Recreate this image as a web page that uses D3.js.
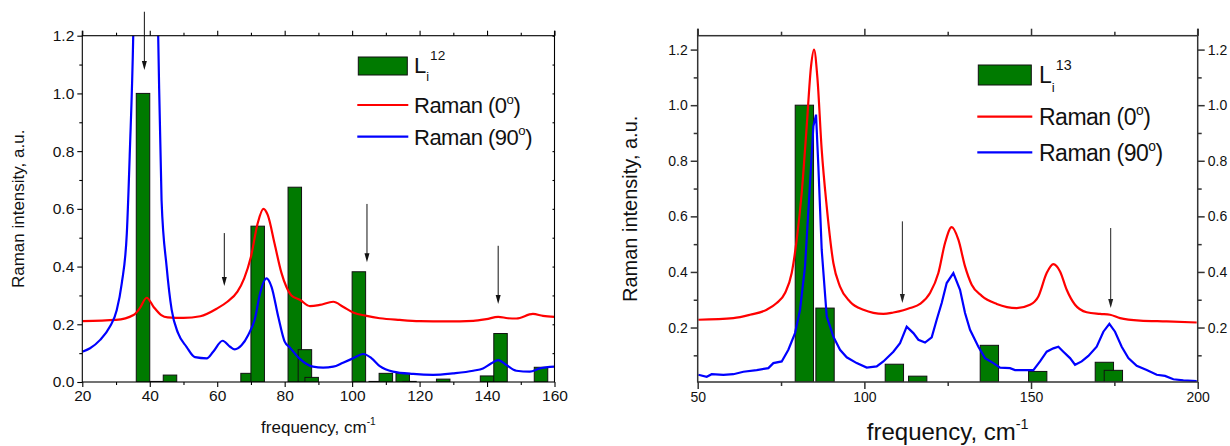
<!DOCTYPE html>
<html>
<head>
<meta charset="utf-8">
<script src="https://cdn.jsdelivr.net/npm/d3@7"></script>
<style>
  html, body { margin: 0; padding: 0; background: #fff; }
  svg { display: block; font-family: "Liberation Sans", Arial, sans-serif; }
</style>
</head>
<body>
<svg id="chart" width="1230" height="446"></svg>
<script>
// ---------------- DATA: left panel (L_i^12) ----------------
const barsLeftFreq = [38, 42, 46, 69, 72, 83, 86, 88, 102, 107, 110, 115, 117, 127, 140, 144, 156];
const barsLeftVal  = [1.0, 0.002, 0.024, 0.03, 0.54, 0.675, 0.112, 0.016, 0.382, 0.002, 0.03, 0.03, 0.002, 0.01, 0.021, 0.168, 0.051];

const redLeftX = [20, 30, 35.2, 37, 39.1, 41.1, 43.4, 45.3, 50, 55, 60, 63, 66, 68, 70, 72, 73.7, 75, 77, 79, 80.5, 82, 84.5, 87.5, 90.4, 94.4, 97.3, 100.3, 104.3, 108.2, 114.1, 120, 128, 135.9, 139.8, 143.3, 146.2, 148.7, 153.6, 156.6, 160];
const redLeftY = [0.211, 0.215, 0.232, 0.255, 0.292, 0.261, 0.232, 0.224, 0.222, 0.228, 0.255, 0.278, 0.313, 0.359, 0.434, 0.55, 0.60, 0.578, 0.48, 0.38, 0.33, 0.30, 0.285, 0.263, 0.267, 0.278, 0.261, 0.241, 0.229, 0.221, 0.215, 0.211, 0.21, 0.212, 0.218, 0.226, 0.221, 0.22, 0.236, 0.229, 0.226];

const blueLeftX = [20, 22.3, 25.3, 28.2, 30.2, 31.7, 33.2, 34.1, 35.1, 36, 37.5, 39, 40.5, 41.7, 42.5, 43.5, 45, 46.5, 48.4, 50.9, 53.4, 56.9, 58.8, 61.6, 63.8, 65.2, 67.2, 69.2, 71.2, 72.7, 74.6, 76.1, 78.1, 80, 81.5, 84.5, 88.4, 91.4, 94.4, 97.3, 100.3, 103.3, 105.7, 108.2, 112.1, 118.1, 124, 129.9, 135.9, 138.8, 141.3, 143.3, 145.7, 148.7, 152.7, 155.6, 160];
const blueLeftY = [0.105, 0.117, 0.146, 0.192, 0.249, 0.342, 0.515, 0.80, 1.2, 1.9, 2.6, 2.8, 2.4, 1.7, 1.2, 0.63, 0.40, 0.25, 0.169, 0.122, 0.086, 0.082, 0.105, 0.143, 0.122, 0.113, 0.127, 0.163, 0.22, 0.307, 0.359, 0.33, 0.226, 0.14, 0.12, 0.08, 0.053, 0.05, 0.053, 0.067, 0.082, 0.097, 0.083, 0.055, 0.036, 0.028, 0.025, 0.03, 0.039, 0.047, 0.065, 0.076, 0.059, 0.039, 0.036, 0.047, 0.053];

const arrowsLeftX  = [38.4, 62.1, 104.4, 143.3];
const arrowsLeftY0 = [1.283, 0.516, 0.617, 0.472];
const arrowsLeftY1 = [1.081, 0.333, 0.415, 0.27];

// ---------------- DATA: right panel (L_i^13) ----------------
const barsRightFreq = [77, 82, 88.2, 109, 116, 137.5, 146, 152, 172, 174.7];
const barsRightVal  = [0.002, 1.0, 0.27, 0.068, 0.025, 0.136, 0.003, 0.042, 0.075, 0.046];

const redRightX = [50.2, 60.7, 65.7, 70.7, 73.7, 76.2, 78.2, 79.7, 81.2, 82.7, 84, 84.9, 85.9, 87.2, 88.7, 90.7, 92.7, 95.7, 99.7, 105.7, 108.7, 111.7, 113.7, 116.7, 119.7, 122.2, 124.2, 126.2, 128.2, 130.2, 132.2, 135.2, 139.7, 145.7, 149.7, 152.2, 154.7, 156.7, 158.7, 160.7, 163.2, 166.7, 170.7, 173.7, 176.7, 182.7, 190.7, 199.7];
const redRightY = [0.228, 0.234, 0.246, 0.264, 0.288, 0.324, 0.396, 0.516, 0.684, 0.924, 1.14, 1.20, 1.10, 0.84, 0.636, 0.432, 0.347, 0.293, 0.264, 0.249, 0.254, 0.262, 0.27, 0.285, 0.324, 0.396, 0.504, 0.561, 0.516, 0.42, 0.354, 0.314, 0.285, 0.27, 0.282, 0.312, 0.396, 0.428, 0.402, 0.336, 0.282, 0.255, 0.249, 0.246, 0.234, 0.225, 0.222, 0.218];

const blueRightX = [50.2, 52.7, 54.2, 57.7, 60.7, 63.7, 67.7, 71.2, 72.7, 75.2, 77.2, 79.2, 80.7, 82.2, 83.7, 84.7, 85.5, 86.2, 87.2, 88.7, 90.7, 92.7, 94.7, 97.7, 100.7, 103.7, 105.7, 108.7, 110.7, 112.7, 114.7, 116.2, 118.2, 120.2, 121.7, 123.2, 124.7, 126.7, 128.7, 130.2, 131.7, 134.2, 136.2, 138.7, 140.7, 143.7, 145.2, 148.7, 150.7, 152.7, 154.7, 156.7, 158.2, 159.7, 161.7, 163.2, 165.2, 167.2, 169.7, 171.7, 173.5, 175.2, 177.2, 179.2, 181.7, 184.7, 187.7, 190.2, 192.7, 195.7, 199.7];
const blueRightY = [0.03, 0.023, 0.032, 0.03, 0.032, 0.041, 0.047, 0.054, 0.072, 0.078, 0.12, 0.18, 0.264, 0.42, 0.72, 0.924, 0.966, 0.78, 0.48, 0.24, 0.167, 0.12, 0.093, 0.072, 0.056, 0.06, 0.078, 0.113, 0.144, 0.203, 0.18, 0.156, 0.146, 0.165, 0.228, 0.288, 0.36, 0.396, 0.336, 0.252, 0.192, 0.131, 0.09, 0.072, 0.056, 0.054, 0.047, 0.047, 0.047, 0.078, 0.113, 0.125, 0.131, 0.113, 0.09, 0.066, 0.078, 0.098, 0.131, 0.185, 0.213, 0.185, 0.131, 0.09, 0.062, 0.047, 0.03, 0.026, 0.014, 0.01, 0.007];

const arrowsRightX  = [111.4, 173.9];
const arrowsRightY0 = [0.582, 0.558];
const arrowsRightY1 = [0.288, 0.27];

// tick values
const leftXTicks = [20, 40, 60, 80, 100, 120, 140, 160];
const leftYTicks = [0.0, 0.2, 0.4, 0.6, 0.8, 1.0, 1.2];
const rightXTicks = [50, 100, 150, 200];
const rightYTicks = [0.2, 0.4, 0.6, 0.8, 1.0, 1.2];

// ---------------- DRAWING ----------------
const svg = d3.select("#chart");
const defs = svg.append("defs");

function zip(a, b) { return a.map((v, i) => [v, b[i]]); }

function drawPanel(cfg) {
  const x = d3.scaleLinear().domain(cfg.xDomain).range([cfg.left, cfg.right]);
  const y = d3.scaleLinear().domain(cfg.yDomain).range([cfg.bottom, cfg.top]);
  const g = svg.append("g");
  const clipId = cfg.id + "-clip";
  defs.append("clipPath").attr("id", clipId).append("rect")
    .attr("x", cfg.left).attr("y", cfg.top)
    .attr("width", cfg.right - cfg.left).attr("height", cfg.bottom - cfg.top);

  const plot = g.append("g").attr("clip-path", `url(#${clipId})`);

  // bars
  plot.selectAll("rect.bar").data(zip(cfg.barsX, cfg.barsY)).join("rect")
    .attr("class", "bar")
    .attr("x", d => x(d[0] - cfg.barW / 2))
    .attr("width", d => x(d[0] + cfg.barW / 2) - x(d[0] - cfg.barW / 2))
    .attr("y", d => y(d[1]))
    .attr("height", d => y(cfg.yDomain[0]) - y(d[1]))
    .attr("fill", "#007a00").attr("stroke", "#111").attr("stroke-width", 1);

  const line = d3.line().x(d => x(d[0])).y(d => y(d[1]));
  // red
  plot.append("path").datum(zip(cfg.redX, cfg.redY))
    .attr("d", line.curve(d3.curveMonotoneX)).attr("fill", "none")
    .attr("stroke", "#ff0000").attr("stroke-width", cfg.lw);
  // blue
  plot.append("path").datum(zip(cfg.blueX, cfg.blueY))
    .attr("d", line.curve(cfg.blueCurve)).attr("fill", "none")
    .attr("stroke", "#0000ff").attr("stroke-width", cfg.lw);

  // axes
  const ac = cfg.axisColor;
  const sw = cfg.axisWidth;
  const xAxisB = d3.axisBottom(x).tickValues(cfg.xTicks).tickSize(cfg.majorTick).tickPadding(3)
    .tickFormat(d3.format("d"));
  const gxb = g.append("g").attr("transform", `translate(0,${cfg.bottom})`).call(xAxisB);
  const xMinor = d3.range(cfg.xDomain[0], cfg.xDomain[1] + 0.001, cfg.xMinorStep)
    .filter(v => !cfg.xTicks.some(t => Math.abs(t - v) < 1e-6));
  const gxbm = g.append("g").attr("transform", `translate(0,${cfg.bottom})`)
    .call(d3.axisBottom(x).tickValues(xMinor).tickSize(cfg.minorTick).tickFormat(""));
  const gxt = g.append("g").attr("transform", `translate(0,${cfg.top})`)
    .call(d3.axisTop(x).tickValues(cfg.xTicks).tickSize(cfg.majorTick).tickFormat(""));
  const gxtm = g.append("g").attr("transform", `translate(0,${cfg.top})`)
    .call(d3.axisTop(x).tickValues(xMinor).tickSize(cfg.minorTick).tickFormat(""));

  const yAxisL = d3.axisLeft(y).tickValues(cfg.yTicks).tickSize(cfg.majorTick).tickPadding(3)
    .tickFormat(d3.format(".1f"));
  const gyl = g.append("g").attr("transform", `translate(${cfg.left},0)`).call(yAxisL);
  const yMinor = d3.range(0.1, cfg.yDomain[1], 0.2);
  const gylm = g.append("g").attr("transform", `translate(${cfg.left},0)`)
    .call(d3.axisLeft(y).tickValues(yMinor).tickSize(cfg.minorTick).tickFormat(""));

  let gyr, gyrm;
  if (cfg.rightLabels) {
    gyr = g.append("g").attr("transform", `translate(${cfg.right},0)`)
      .call(d3.axisRight(y).tickValues(cfg.yTicks).tickSize(cfg.majorTick).tickPadding(3).tickFormat(d3.format(".1f")));
    gyrm = g.append("g").attr("transform", `translate(${cfg.right},0)`)
      .call(d3.axisRight(y).tickValues(yMinor).tickSize(cfg.minorTick).tickFormat(""));
  } else {
    const allY = d3.range(0.1, cfg.yDomain[1] + 0.001, 0.1);
    gyr = g.append("g").attr("transform", `translate(${cfg.right},0)`)
      .call(d3.axisLeft(y).tickValues(allY).tickSize(2).tickFormat(""));
  }

  [gxb, gxbm, gxt, gxtm, gyl, gylm, gyr, gyrm].forEach(a => {
    if (!a) return;
    a.attr("font-size", null);
    a.select(".domain").remove();
    a.selectAll("line").attr("stroke", ac).attr("stroke-width", sw);
    a.selectAll("text").attr("fill", "#111").attr("font-size", cfg.tickFont)
      .style("font-size", cfg.tickFont + "px")
      .style("font-family", '"Liberation Sans", Arial, sans-serif');
  });

  // frame
  g.append("rect").attr("x", cfg.left).attr("y", cfg.top)
    .attr("width", cfg.right - cfg.left).attr("height", cfg.bottom - cfg.top)
    .attr("fill", "none").attr("stroke", ac).attr("stroke-width", sw);
  // axis line overshoot at top
  g.append("line").attr("x1", cfg.left).attr("x2", cfg.left).attr("y1", cfg.top - cfg.majorTick).attr("y2", cfg.top)
    .attr("stroke", ac).attr("stroke-width", sw);
  g.append("line").attr("x1", cfg.right).attr("x2", cfg.right).attr("y1", cfg.top - cfg.majorTick).attr("y2", cfg.top)
    .attr("stroke", ac).attr("stroke-width", sw);

  // arrows
  cfg.arrX.forEach((ax, i) => {
    const px = x(ax), py0 = y(cfg.arrY0[i]), py1 = y(cfg.arrY1[i]);
    g.append("line").attr("x1", px).attr("x2", px).attr("y1", py0).attr("y2", py1 - 8)
      .attr("stroke", cfg.arrowColor).attr("stroke-width", 1);
    g.append("path").attr("d", `M${px - 2.5},${py1 - 9} L${px + 2.5},${py1 - 9} L${px},${py1} Z`)
      .attr("fill", cfg.arrowColor);
  });

  // axis titles
  const xt = g.append("text").attr("x", (cfg.left + cfg.right) / 2).attr("y", cfg.xTitleY)
    .attr("text-anchor", "middle").style("font-size", cfg.titleFontX + "px").attr("fill", "#111");
  xt.append("tspan").text("frequency, cm");
  xt.append("tspan").text("-1").attr("dy", -cfg.titleFontX * 0.45).style("font-size", (cfg.titleFontX * 0.6) + "px");

  g.append("text").attr("transform", `translate(${cfg.yTitleX},${(cfg.top + cfg.bottom) / 2}) rotate(-90)`)
    .attr("text-anchor", "middle").style("font-size", cfg.titleFontY + "px").attr("fill", "#111")
    .text("Raman intensity, a.u.");

  // legend
  const L = cfg.legend;
  g.append("rect").attr("x", L.x).attr("y", L.rectY).attr("width", L.w).attr("height", L.rectH)
    .attr("fill", "#007a00").attr("stroke", "#111").attr("stroke-width", 1);
  const lt = g.append("text").attr("x", L.tx).attr("y", L.rectBase).style("font-size", L.font + "px").attr("fill", "#111");
  lt.append("tspan").text("L");
  lt.append("tspan").text("i").attr("dy", L.font * 0.38).style("font-size", (L.font * 0.58) + "px");
  lt.append("tspan").text(cfg.barLabel).attr("dy", -L.font * 0.95).attr("dx", 1).style("font-size", (L.font * 0.62) + "px");

  [["Raman (0", "#ff0000", L.redY, L.redBase], ["Raman (90", "#0000ff", L.blueY, L.blueBase]].forEach(r => {
    g.append("line").attr("x1", L.x - 1).attr("x2", L.x + L.w + 1).attr("y1", r[2]).attr("y2", r[2])
      .attr("stroke", r[1]).attr("stroke-width", 2.2);
    const t = g.append("text").attr("x", L.tx).attr("y", r[3]).style("font-size", L.font + "px")
      .style("letter-spacing", "-0.5px").attr("fill", "#111");
    t.append("tspan").text(r[0]);
    t.append("tspan").text("o").attr("dy", -L.font * 0.42).style("font-size", (L.font * 0.6) + "px");
    t.append("tspan").text(")").attr("dy", L.font * 0.42);
  });
}

drawPanel({
  id: "left", xDomain: [20, 160], yDomain: [0, 1.2],
  left: 82.3, right: 554.5, top: 35.7, bottom: 382,
  barsX: barsLeftFreq, barsY: barsLeftVal, barW: 4,
  redX: redLeftX, redY: redLeftY, blueX: blueLeftX, blueY: blueLeftY,
  blueCurve: d3.curveMonotoneX, lw: 2.2,
  xTicks: leftXTicks, yTicks: leftYTicks, xMinorStep: 10,
  majorTick: 5, minorTick: 3, axisColor: "#000", axisWidth: 1.1, tickFont: 15.5,
  rightLabels: false,
  arrX: arrowsLeftX, arrY0: arrowsLeftY0, arrY1: arrowsLeftY1, arrowColor: "#111",
  xTitleY: 433, titleFontX: 17, yTitleX: 24, titleFontY: 17,
  barLabel: "12",
  legend: { x: 358.3, w: 49, rectY: 57, rectH: 18, tx: 414, rectBase: 73, font: 22,
            redY: 105, redBase: 113, blueY: 136.7, blueBase: 144.5 }
});

drawPanel({
  id: "right", xDomain: [50, 200], yDomain: [0.004, 1.25],
  left: 697.7, right: 1197.7, top: 35.7, bottom: 382,
  barsX: barsRightFreq, barsY: barsRightVal, barW: 5.5,
  redX: redRightX, redY: redRightY, blueX: blueRightX, blueY: blueRightY,
  blueCurve: d3.curveLinear, lw: 2.2,
  xTicks: rightXTicks, yTicks: rightYTicks, xMinorStep: 25,
  majorTick: 7, minorTick: 4, axisColor: "#333", axisWidth: 1.5, tickFont: 14,
  rightLabels: true,
  arrX: arrowsRightX, arrY0: arrowsRightY0, arrY1: arrowsRightY1, arrowColor: "#222",
  xTitleY: 440, titleFontX: 24, yTitleX: 637, titleFontY: 20,
  barLabel: "13",
  legend: { x: 978.3, w: 53, rectY: 65, rectH: 20, tx: 1039, rectBase: 83, font: 23,
            redY: 116.7, redBase: 125, blueY: 152.3, blueBase: 160.5 }
});
</script>
</body>
</html>
